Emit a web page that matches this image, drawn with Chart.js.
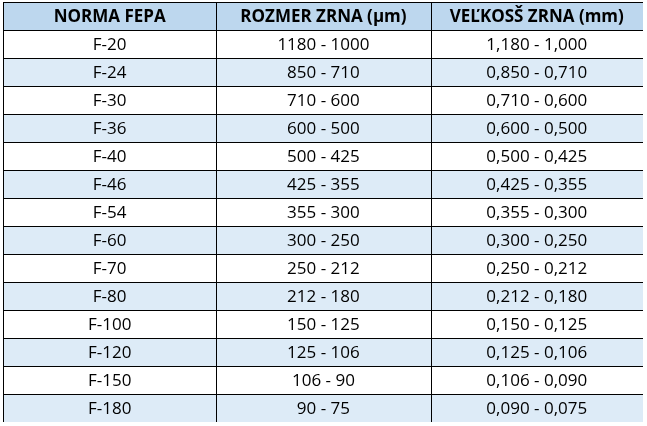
<!DOCTYPE html>
<html>
<head>
<meta charset="utf-8">
<script src="https://cdn.jsdelivr.net/npm/chart.js@4/dist/chart.umd.min.js"></script>
<style>
html,body{margin:0;padding:0;background:#fff;}
#wrap{position:absolute;left:3px;top:2px;width:640px;height:420px;}
</style>
</head>
<body>
<div id="wrap"><canvas id="tbl"></canvas></div>
<script>
var headers = ["NORMA FEPA", "ROZMER ZRNA (\u00b5m)", "VE\u013dKOS\u0160 ZRNA (mm)"];
var norma = ["F-20","F-24","F-30","F-36","F-40","F-46","F-54","F-60","F-70","F-80","F-100","F-120","F-150","F-180"];
var rozmer = ["1180 - 1000","850 - 710","710 - 600","600 - 500","500 - 425","425 - 355","355 - 300","300 - 250","250 - 212","212 - 180","150 - 125","125 - 106","106 - 90","90 - 75"];
var velkost = ["1,180 - 1,000","0,850 - 0,710","0,710 - 0,600","0,600 - 0,500","0,500 - 0,425","0,425 - 0,355","0,355 - 0,300","0,300 - 0,250","0,250 - 0,212","0,212 - 0,180","0,150 - 0,125","0,125 - 0,106","0,106 - 0,090","0,090 - 0,075"];
// column edges in table units
var colEdges = [0, 1, 2.004, 3.0];

var tablePlugin = {
    id: "tablePlugin",
    afterDraw: function(chart) {
        var c = chart.ctx, x = chart.scales.x, y = chart.scales.y;
        var nRows = norma.length + 1;
        var cols = [headers].concat(norma.map(function(n, i) { return [n, rozmer[i], velkost[i]]; }));
        c.save();
        for (var r = 0; r < nRows; r++) {
            var top = y.getPixelForValue(r), bot = y.getPixelForValue(r + 1);
            c.fillStyle = r == 0 ? "#bdd7ee" : (r % 2 == 0 ? "#ddebf7" : "#ffffff");
            c.fillRect(x.getPixelForValue(0), top, x.getPixelForValue(3) - x.getPixelForValue(0), bot - top);
            for (var k = 0; k < 3; k++) {
                var l = x.getPixelForValue(colEdges[k]), rr = x.getPixelForValue(colEdges[k + 1]);
                c.fillStyle = "#000";
                c.font = (r == 0 ? "bold 17px" : "17px") + " 'Open Sans', sans-serif";
                c.textAlign = "center";
                c.textBaseline = "middle";
                c.fillText(cols[r][k], (l + rr) / 2, (top + bot) / 2 + 1);
            }
        }
        // grid lines
        c.strokeStyle = "#000";
        c.lineWidth = 1;
        c.beginPath();
        for (var r = 0; r <= nRows; r++) {
            var py = Math.round(y.getPixelForValue(r)) + 0.5;
            c.moveTo(x.getPixelForValue(0), py);
            c.lineTo(x.getPixelForValue(3), py);
        }
        for (var k = 0; k < colEdges.length; k++) {
            var px = Math.round(x.getPixelForValue(colEdges[k])) + 0.5;
            c.moveTo(px, y.getPixelForValue(0));
            c.lineTo(px, y.getPixelForValue(nRows));
        }
        c.stroke();
        c.restore();
    }
};

new Chart(document.getElementById("tbl"), {
    type: "scatter",
    data: { datasets: [{ data: [] }] },
    options: {
        responsive: true,
        maintainAspectRatio: false,
        animation: false,
        layout: { padding: 0 },
        plugins: { legend: { display: false }, tooltip: { enabled: false } },
        scales: {
            x: { type: "linear", min: 0, max: 3, display: false },
            y: { type: "linear", min: 0, max: norma.length + 1, reverse: true, display: false }
        }
    },
    plugins: [tablePlugin]
});
</script>
</body>
</html>
